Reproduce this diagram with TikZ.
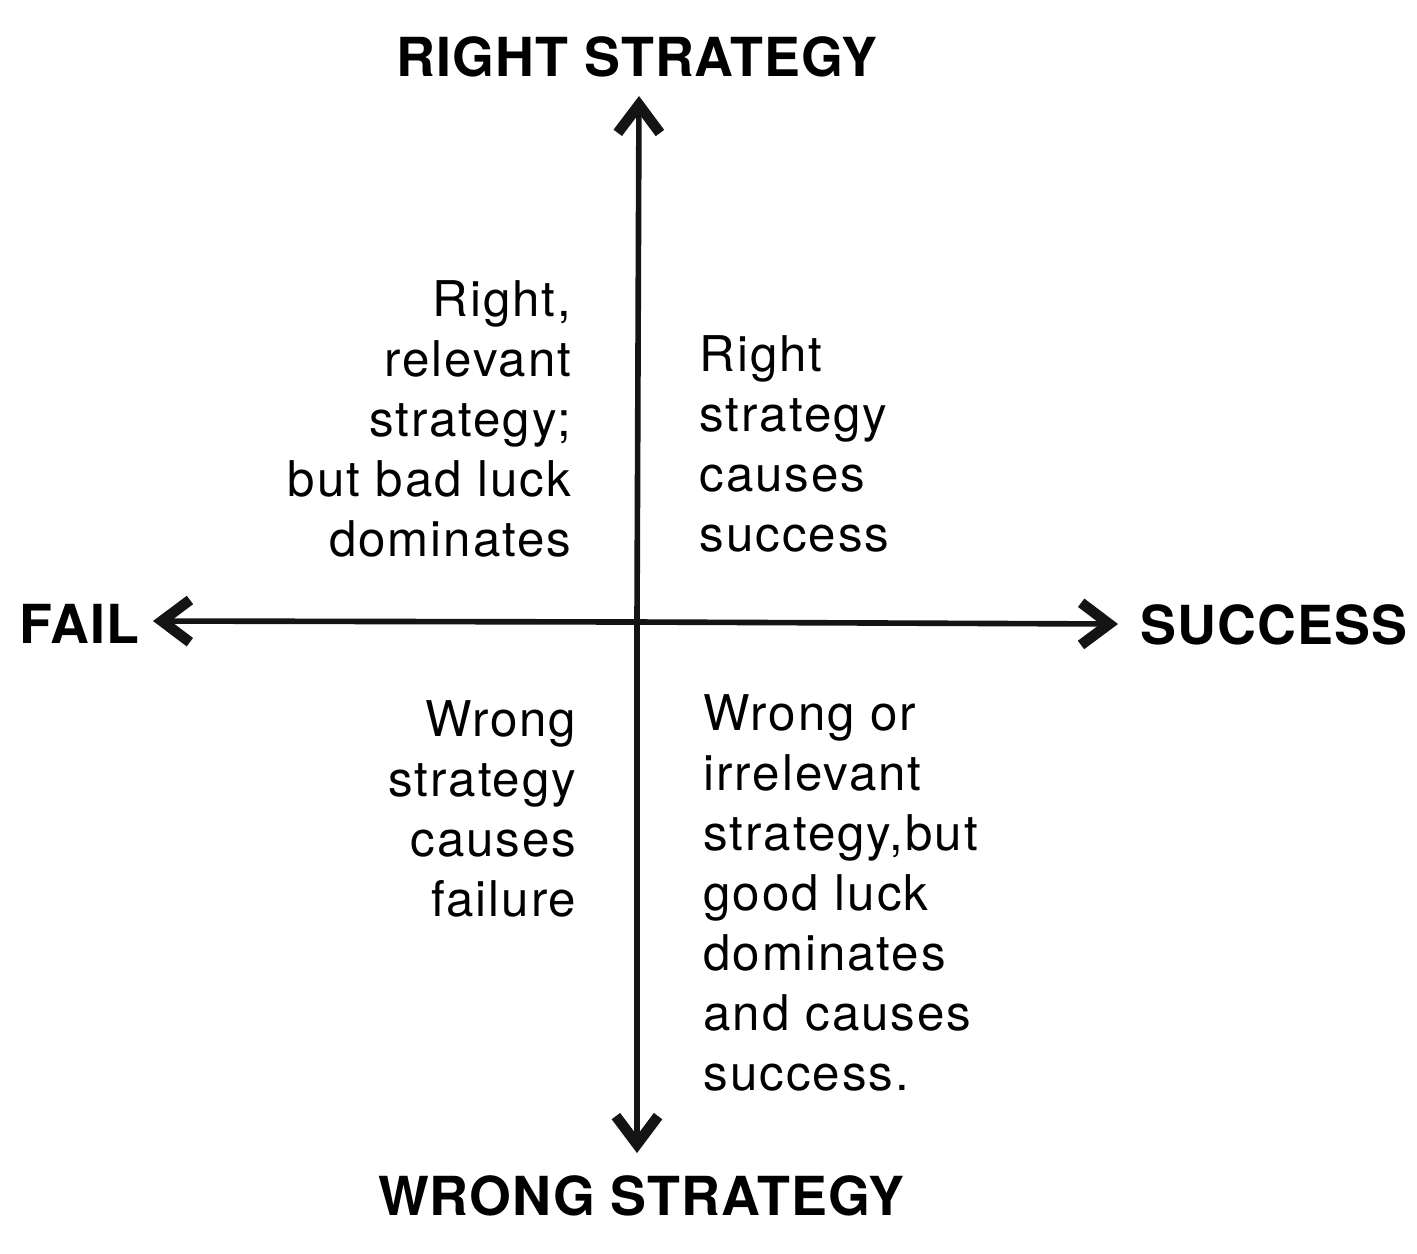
\documentclass[tikz,border=0pt]{standalone}
\usepackage{fontspec}
\usepackage{tikz}
\usetikzlibrary{arrows.meta}
\newfontfamily\quadfont[LetterSpace=4]{TeX Gyre Heros}
\newfontfamily\headfont[LetterSpace=2]{TeX Gyre Heros}

\begin{document}
\begin{tikzpicture}[x=0.01cm, y=-0.01cm,
    axis/.style={line width=1.6pt, color=black!92,
        -{Straight Barb[length=8pt, width=12pt, line width=3pt]}},
    head/.style={inner sep=0pt, font=\headfont\bfseries\fontsize{15.3}{18}\selectfont},
    quad/.style={inner sep=0pt, font=\quadfont\fontsize{14}{17.07}\selectfont}]
                \useasboundingbox (0,0) rectangle (1417,1253);

                % Points
                \coordinate (O) at (637,622);
                \coordinate (T) at (639,96);
                \coordinate (B) at (637,1153);
                \coordinate (L) at (153,621);
                \coordinate (R) at (1118,624);

                % Axes
                \draw[axis] (O) -- (T);
                \draw[axis] (O) -- (B);
                \draw[axis] (O) -- (L);
                \draw[axis] (O) -- (R);

                % Axis labels
                \node[head] (RS) at (637,57) {RIGHT STRATEGY};
                \node[head] (WS) at (641,1196) {WRONG STRATEGY};
                \node[head, anchor=west] (F) at (19,624) {FAIL};
                \node[head, anchor=west] (S) at (1140,625) {SUCCESS};

                % Quadrant texts
                \node[quad, anchor=north east, align=right] (Q2) at (572,280)
                    {Right,\\relevant\\strategy;\\but bad luck\\dominates};
                \node[quad, anchor=north west, align=left] (Q1) at (699,335)
                    {Right\\strategy\\causes\\success};
                \node[quad, anchor=north east, align=right] (Q3) at (577,700)
                    {Wrong\\strategy\\causes\\failure};
                \node[quad, anchor=north west, align=left] (Q4) at (703,694)
                    {Wrong or\\irrelevant\\strategy,but\\good luck\\dominates\\and causes\\success.};
            \end{tikzpicture}
\end{document}
